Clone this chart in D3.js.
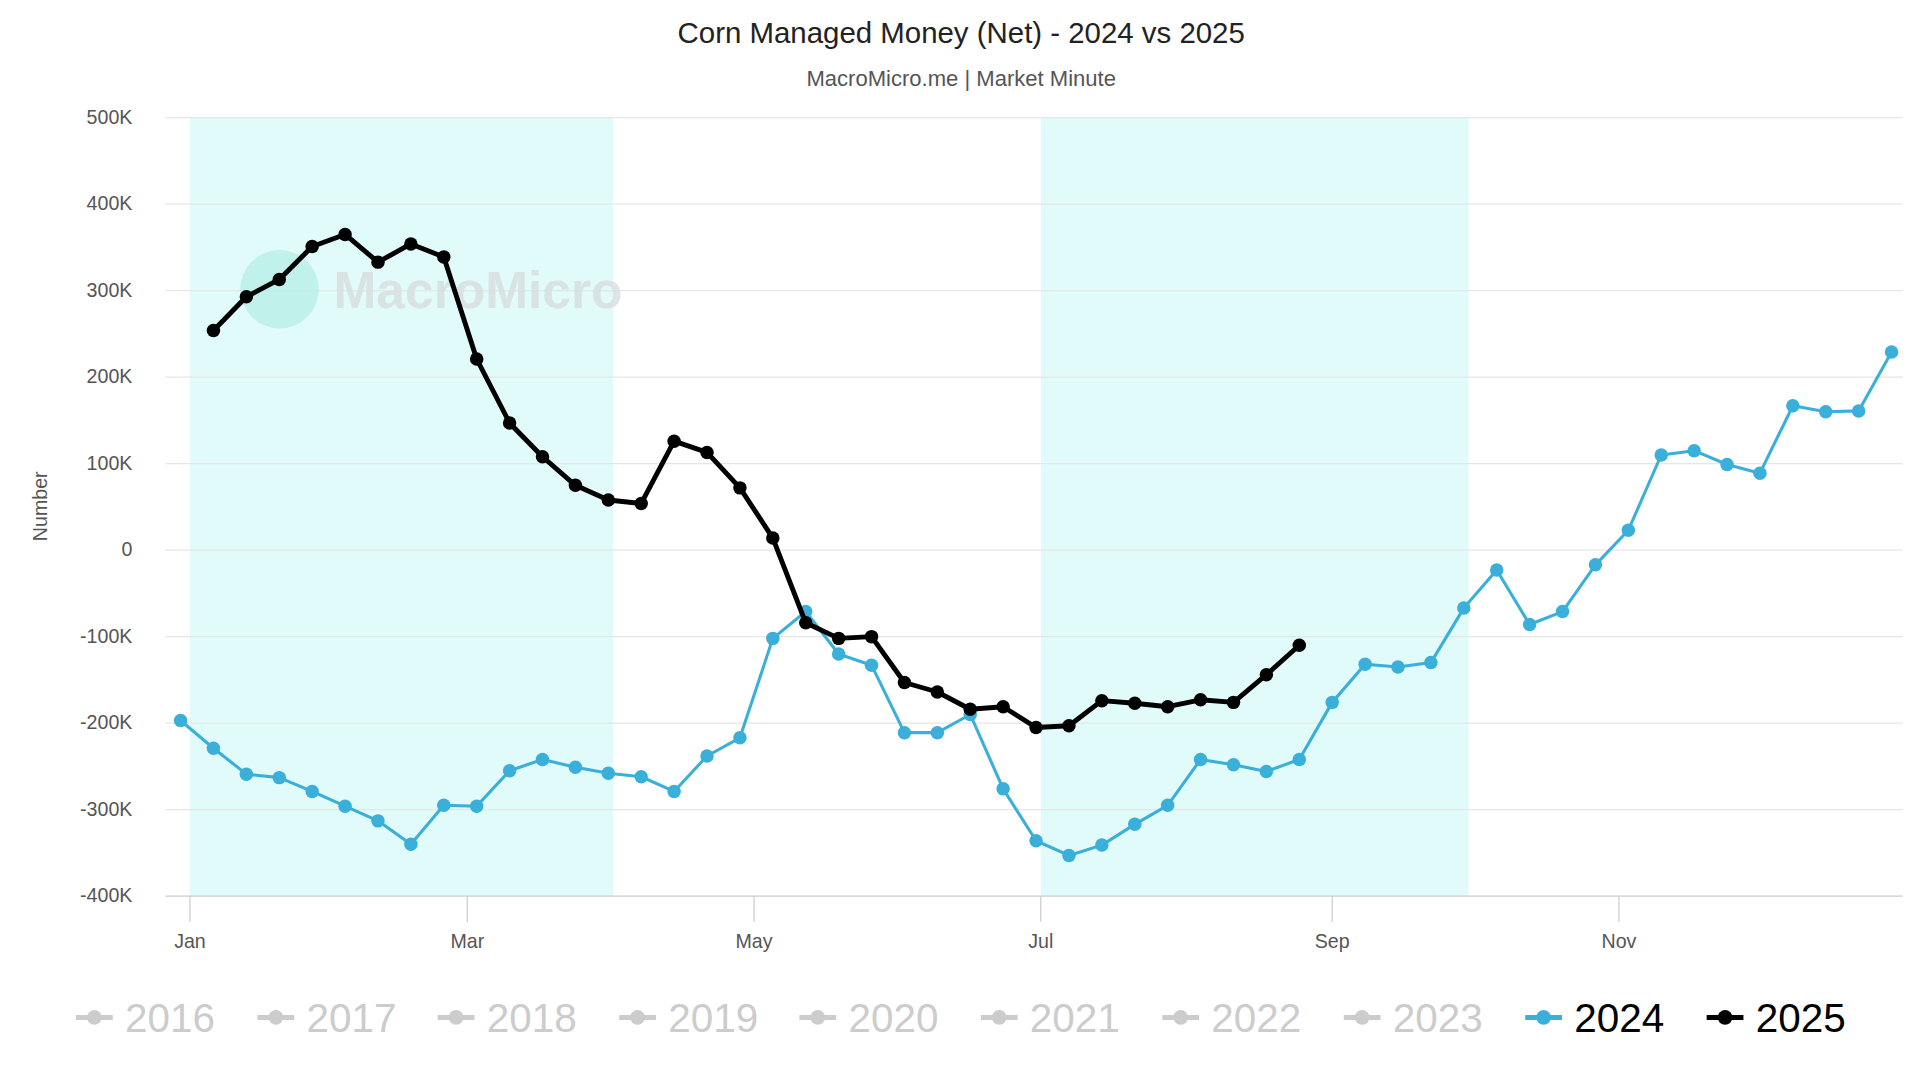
<!DOCTYPE html><html><head><meta charset="utf-8">
<script src="https://cdn.jsdelivr.net/npm/d3@7"></script>
<style>body{margin:0;background:#fff}svg{display:block;font-family:"Liberation Sans",Arial,sans-serif}</style></head><body>
<script>
const title="Corn Managed Money (Net) - 2024 vs 2025";
const subtitle="MacroMicro.me | Market Minute";
const yTicks=[500,400,300,200,100,0,-100,-200,-300,-400];
const monthTicks=[{l:"Jan",d:0},{l:"Mar",d:59},{l:"May",d:120},{l:"Jul",d:181},{l:"Sep",d:243},{l:"Nov",d:304}];
const bands=[[0,90],[181,272]];
const s2024=[-197,-229,-259,-263,-279,-296,-313,-340,-295,-296,-255,-242,-251,-258,-262,-279,-238,-217,-102,-71,-120,-133,-211,-211,-190,-276,-336,-353,-341,-317,-295,-242,-248,-256,-242,-176,-132,-135,-130,-67,-23,-86,-71,-17,23,110,115,99,89,167,160,161,229];
const s2025=[254,293,313,351,365,333,354,339,221,147,108,75,58,54,126,113,72,14,-84,-102,-100,-153,-164,-184,-181,-205,-203,-174,-177,-181,-173,-176,-144,-110];
const legendYears=["2016","2017","2018","2019","2020","2021","2022","2023","2024","2025"];
const W=1566,H=881;
const svg=d3.select("body").append("svg").attr("width",1920).attr("height",1080).attr("viewBox",`0 0 ${W} ${H}`).attr("preserveAspectRatio","none");
const x=d3.scaleLinear().domain([-5.2,364.4]).range([135,1552]);
const y=d3.scaleLinear().domain([-400,500]).range([731,96]);
bands.forEach(b=>svg.append("rect").attr("x",x(b[0])).attr("width",x(b[1])-x(b[0])).attr("y",y(500)).attr("height",y(-400)-y(500)).attr("fill","#e1fafa"));
yTicks.forEach(t=>{svg.append("line").attr("x1",135).attr("x2",1552).attr("y1",y(t)).attr("y2",y(t)).attr("stroke",t==-400?"#ccc":"#e6e6e6").attr("stroke-width",1);
svg.append("text").attr("x",108).attr("y",y(t)+5).attr("text-anchor","end").attr("font-size",16).attr("fill","#555").text(t==0?"0":t+"K");});
monthTicks.forEach(m=>{svg.append("line").attr("x1",x(m.d)).attr("x2",x(m.d)).attr("y1",731).attr("y2",752).attr("stroke","#ccc");
svg.append("text").attr("x",x(m.d)).attr("y",773).attr("text-anchor","middle").attr("font-size",16).attr("fill","#555").text(m.l);});
svg.append("text").attr("x",W/2+1).attr("y",35).attr("text-anchor","middle").attr("font-size",24).attr("fill","#222").text(title);
svg.append("text").attr("x",W/2+1).attr("y",70).attr("text-anchor","middle").attr("font-size",18).attr("fill","#555").text(subtitle);
svg.append("text").attr("transform","translate(38,413) rotate(-90)").attr("text-anchor","middle").attr("font-size",16).attr("fill","#555").text("Number");
svg.append("circle").attr("cx",228).attr("cy",236).attr("r",32).attr("fill","#b8efe6").attr("opacity",0.8);
svg.append("text").attr("x",272).attr("y",251).attr("font-size",42).attr("font-weight","bold").attr("fill","#d8dede").attr("opacity",0.8).text("MacroMicro");
function series(data,start,color,w,r){
 const pts=data.map((v,i)=>[x(-2+7*(i+start)),y(v)]);
 svg.append("path").attr("d",d3.line()(pts)).attr("fill","none").attr("stroke",color).attr("stroke-width",w).attr("stroke-linejoin","round");
 svg.selectAll(null).data(pts).enter().append("circle").attr("cx",d=>d[0]).attr("cy",d=>d[1]).attr("r",r).attr("fill",color);
}
series(s2024,0,"#3aafda",2.5,5.5);
series(s2025,1,"#000",4,5.5);
const lx=[62,210,357,505,652,800,948,1096,1244,1392];
legendYears.forEach((yr,i)=>{const c=yr=="2024"?"#3aafda":yr=="2025"?"#000":"#ccc";const tc=(yr=="2024"||yr=="2025")?"#000":"#ccc";
 svg.append("line").attr("x1",lx[i]).attr("x2",lx[i]+30).attr("y1",830).attr("y2",830).attr("stroke",c).attr("stroke-width",4);
 svg.append("circle").attr("cx",lx[i]+15).attr("cy",830).attr("r",6).attr("fill",c);
 svg.append("text").attr("x",lx[i]+40).attr("y",842).attr("font-size",33).attr("fill",tc).text(yr);});
</script></body></html>
